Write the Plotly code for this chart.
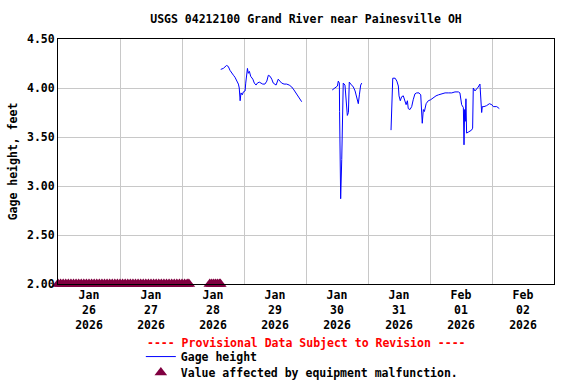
import plotly.graph_objects as go

# ---------------- data ----------------
seg1_time = ["2026-01-28 15:00", "2026-01-28 16:00", "2026-01-28 17:15", "2026-01-28 17:55",
             "2026-01-28 18:35", "2026-01-28 19:15", "2026-01-28 19:55", "2026-01-28 20:30",
             "2026-01-28 21:10", "2026-01-28 21:50", "2026-01-28 22:10", "2026-01-28 22:30",
             "2026-01-28 22:50", "2026-01-28 23:20", "2026-01-28 23:45", "2026-01-29 00:25",
             "2026-01-29 00:40", "2026-01-29 01:00", "2026-01-29 01:20", "2026-01-29 01:40",
             "2026-01-29 02:05", "2026-01-29 02:35", "2026-01-29 03:25", "2026-01-29 04:00",
             "2026-01-29 04:40", "2026-01-29 05:10", "2026-01-29 05:55", "2026-01-29 06:35",
             "2026-01-29 07:15", "2026-01-29 08:05", "2026-01-29 08:50", "2026-01-29 09:25",
             "2026-01-29 10:05", "2026-01-29 10:45", "2026-01-29 11:20", "2026-01-29 12:25",
             "2026-01-29 13:15", "2026-01-29 13:55", "2026-01-29 14:35", "2026-01-29 15:30",
             "2026-01-29 16:30", "2026-01-29 17:30", "2026-01-29 18:30", "2026-01-29 19:20",
             "2026-01-29 20:25", "2026-01-29 21:20", "2026-01-29 22:20"]
seg1_value = [4.19, 4.20, 4.23, 4.22, 4.18, 4.16, 4.13, 4.11, 4.07, 4.04, 4.00, 3.87,
              3.95, 3.93, 3.96, 3.97, 4.05, 4.16, 4.20, 4.15, 4.17, 4.12, 4.09, 4.05,
              4.03, 4.05, 4.06, 4.05, 4.04, 4.04, 4.07, 4.13, 4.12, 4.09, 4.05, 4.03,
              4.09, 4.07, 4.05, 4.04, 4.04, 4.03, 4.01, 3.98, 3.94, 3.90, 3.86]

seg2_time = ["2026-01-30 10:10", "2026-01-30 11:15", "2026-01-30 12:10", "2026-01-30 12:30",
             "2026-01-30 12:55", "2026-01-30 13:00", "2026-01-30 13:25", "2026-01-30 13:50",
             "2026-01-30 14:05", "2026-01-30 14:25", "2026-01-30 15:05", "2026-01-30 15:30",
             "2026-01-30 16:00", "2026-01-30 16:25", "2026-01-30 16:45", "2026-01-30 17:20",
             "2026-01-30 18:20", "2026-01-30 19:00", "2026-01-30 19:40", "2026-01-30 20:15",
             "2026-01-30 20:40", "2026-01-30 21:10", "2026-01-30 21:35"]
seg2_value = [3.98, 4.00, 4.02, 4.07, 4.05, 3.76, 2.87, 3.27, 3.93, 4.05, 4.03, 3.85,
              3.72, 3.75, 4.06, 4.04, 4.01, 3.97, 3.90, 3.84, 3.93, 4.03, 4.05]

seg3_time = ["2026-01-31 08:55", "2026-01-31 09:10", "2026-01-31 09:35", "2026-01-31 10:30",
             "2026-01-31 11:10", "2026-01-31 11:45", "2026-01-31 12:00", "2026-01-31 12:30",
             "2026-01-31 13:00", "2026-01-31 13:40", "2026-01-31 14:20", "2026-01-31 14:45",
             "2026-01-31 15:15", "2026-01-31 15:35", "2026-01-31 16:15", "2026-01-31 16:55",
             "2026-01-31 17:30", "2026-01-31 18:10", "2026-01-31 18:50", "2026-01-31 19:45",
             "2026-01-31 20:25", "2026-01-31 20:45", "2026-01-31 21:00", "2026-01-31 21:25",
             "2026-01-31 21:50", "2026-01-31 22:30", "2026-01-31 23:20", "2026-02-01 00:15",
             "2026-02-01 01:15", "2026-02-01 02:20", "2026-02-01 03:15", "2026-02-01 04:30",
             "2026-02-01 05:50", "2026-02-01 07:05", "2026-02-01 08:25", "2026-02-01 09:40",
             "2026-02-01 11:00", "2026-02-01 11:35", "2026-02-01 12:15", "2026-02-01 12:55",
             "2026-02-01 13:10", "2026-02-01 13:25", "2026-02-01 13:40", "2026-02-01 13:55",
             "2026-02-01 14:10", "2026-02-01 14:50", "2026-02-01 15:30", "2026-02-01 16:05",
             "2026-02-01 16:30", "2026-02-01 16:45", "2026-02-01 17:25", "2026-02-01 18:05",
             "2026-02-01 18:40", "2026-02-01 19:20", "2026-02-01 19:40", "2026-02-01 20:00",
             "2026-02-01 20:15", "2026-02-01 20:55", "2026-02-01 21:55", "2026-02-01 23:00",
             "2026-02-01 23:55", "2026-02-02 00:30", "2026-02-02 01:50", "2026-02-02 02:25",
             "2026-02-02 02:50"]
seg3_value = [3.57, 3.83, 4.10, 4.10, 4.07, 4.02, 3.92, 3.87, 3.91, 3.92, 3.87, 3.83,
              3.87, 3.79, 3.78, 3.81, 3.88, 3.94, 3.95, 3.95, 3.93, 3.80, 3.64, 3.78,
              3.76, 3.84, 3.87, 3.88, 3.90, 3.92, 3.93, 3.94, 3.95, 3.95, 3.95, 3.96,
              3.96, 3.95, 3.83, 3.80, 3.42, 3.78, 3.66, 3.89, 3.54, 3.55, 3.56, 3.57,
              3.59, 4.00, 3.97, 3.99, 4.01, 4.04, 3.81, 3.75, 3.81, 3.81, 3.82, 3.84,
              3.83, 3.81, 3.81, 3.80, 3.79]

malfunction_time = [
    "2026-01-26 00:00", "2026-01-26 01:00", "2026-01-26 02:00", "2026-01-26 03:00", "2026-01-26 04:00",
    "2026-01-26 05:00", "2026-01-26 06:00", "2026-01-26 07:00", "2026-01-26 08:00", "2026-01-26 09:00",
    "2026-01-26 10:00", "2026-01-26 11:00", "2026-01-26 12:00", "2026-01-26 13:00", "2026-01-26 14:00",
    "2026-01-26 15:00", "2026-01-26 16:00", "2026-01-26 17:00", "2026-01-26 18:00", "2026-01-26 19:00",
    "2026-01-26 20:00", "2026-01-26 21:00", "2026-01-26 22:00", "2026-01-26 23:00", "2026-01-27 00:00",
    "2026-01-27 01:00", "2026-01-27 02:00", "2026-01-27 03:00", "2026-01-27 04:00", "2026-01-27 05:00",
    "2026-01-27 06:00", "2026-01-27 07:00", "2026-01-27 08:00", "2026-01-27 09:00", "2026-01-27 10:00",
    "2026-01-27 11:00", "2026-01-27 12:00", "2026-01-27 13:00", "2026-01-27 14:00", "2026-01-27 15:00",
    "2026-01-27 16:00", "2026-01-27 17:00", "2026-01-27 18:00", "2026-01-27 19:00", "2026-01-27 20:00",
    "2026-01-27 21:00", "2026-01-27 22:00", "2026-01-27 23:00", "2026-01-28 00:00", "2026-01-28 01:00",
    "2026-01-28 02:00", "2026-01-28 02:40",
    "2026-01-28 10:45", "2026-01-28 11:30", "2026-01-28 12:15", "2026-01-28 13:00", "2026-01-28 13:45",
    "2026-01-28 14:30", "2026-01-28 14:50"]
malfunction_value = [2.00] * len(malfunction_time)

tick_times = ["2026-01-26 12:00", "2026-01-27 12:00", "2026-01-28 12:00", "2026-01-29 12:00",
              "2026-01-30 12:00", "2026-01-31 12:00", "2026-02-01 12:00", "2026-02-02 12:00"]
tick_labels = ["Jan<br>26<br>2026", "Jan<br>27<br>2026", "Jan<br>28<br>2026", "Jan<br>29<br>2026",
               "Jan<br>30<br>2026", "Jan<br>31<br>2026", "Feb<br>01<br>2026", "Feb<br>02<br>2026"]
day_lines = ["2026-01-27", "2026-01-28", "2026-01-29", "2026-01-30",
             "2026-01-31", "2026-02-01", "2026-02-02"]
y_ticks = [2.0, 2.5, 3.0, 3.5, 4.0, 4.5]

title_text = "USGS 04212100 Grand River near Painesville OH"
provisional_text = "---- Provisional Data Subject to Revision ----"

# ---------------- figure ----------------
FONT = "DejaVu Sans Mono"
gage_x = seg1_time + [None] + seg2_time + [None] + seg3_time
gage_y = seg1_value + [None] + seg2_value + [None] + seg3_value

fig = go.Figure()
fig.add_trace(go.Scatter(
    x=gage_x, y=gage_y, mode="lines", name="Gage height",
    line=dict(color="#0000ff", width=1), connectgaps=False, legend="legend",
))
fig.add_trace(go.Scatter(
    x=malfunction_time, y=malfunction_value, mode="markers",
    name="Value affected by equipment malfunction.",
    marker=dict(symbol="triangle-up", size=11, color="#800040", line=dict(width=0)),
    cliponaxis=False, legend="legend2",
))

legend_font = dict(family=FONT, size=11.5, color="black", weight="bold")
fig.update_layout(
    width=576, height=384,
    margin=dict(l=58, r=22, t=39, b=100, autoexpand=False),
    paper_bgcolor="white", plot_bgcolor="white",
    font=dict(family=FONT, size=11.5, color="black", weight="bold"),
    title=dict(text=title_text, x=0.5, xref="paper", y=1 - 19 / 384, yref="container",
               yanchor="middle", xanchor="center",
               font=dict(family=FONT, size=11.5, color="black", weight="bold")),
    showlegend=True,
    legend=dict(x=0.167, y=-0.237, xanchor="left", yanchor="top", font=legend_font,
                bgcolor="rgba(0,0,0,0)", borderwidth=0),
    legend2=dict(x=0.167, y=-0.302, xanchor="left", yanchor="top", font=legend_font,
                 bgcolor="rgba(0,0,0,0)", borderwidth=0),
    annotations=[dict(text=provisional_text, x=0.5, y=-0.24, xref="paper", yref="paper",
                      xanchor="center", yanchor="middle", showarrow=False,
                      font=dict(family=FONT, size=11.5, color="#ff0000", weight="bold"))],
)

fig.update_xaxes(
    range=["2026-01-26 00:00", "2026-02-03 00:00"],
    tickmode="array", tickvals=tick_times, ticktext=tick_labels,
    showgrid=False, ticks="", tickangle=0, automargin=False,
    tickfont=dict(family=FONT, size=11.5, color="black", weight="bold"),
    minor=dict(tickmode="array", tickvals=day_lines, showgrid=True,
               gridcolor="#c8c8c8", gridwidth=1, ticks=""),
    showline=True, linecolor="black", linewidth=1, mirror=True,
    zeroline=False, fixedrange=True,
)
fig.update_yaxes(
    range=[2.0, 4.5], tickmode="array", tickvals=y_ticks, tickformat=".2f",
    showgrid=True, gridcolor="#c8c8c8", gridwidth=1, ticks="", automargin=False,
    showline=True, linecolor="black", linewidth=1, mirror=True, zeroline=False,
    title=dict(text="Gage height, feet", standoff=6,
               font=dict(family=FONT, size=11.5, color="black", weight="bold")),
    tickfont=dict(family=FONT, size=11.5, color="black", weight="bold"),
)

fig.write_html("out.html", config={"displayModeBar": False},
               post_script="document.body.style.margin='0';document.body.style.overflow='hidden';")
